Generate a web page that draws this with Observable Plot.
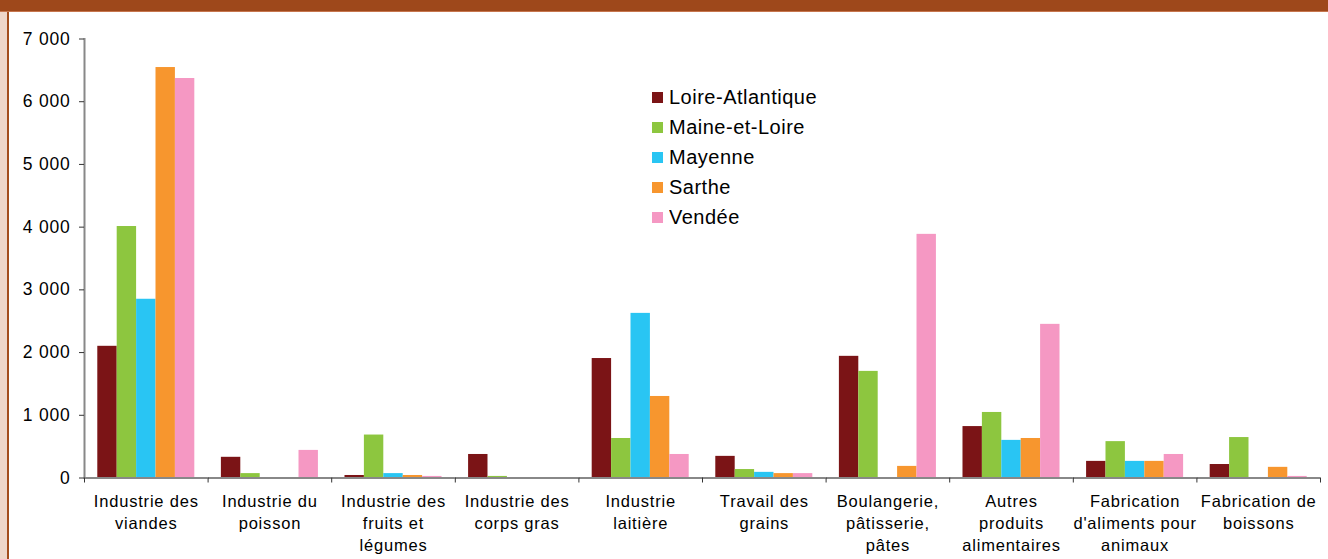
<!DOCTYPE html>
<html>
<head>
<meta charset="utf-8">
<script src="https://cdn.jsdelivr.net/npm/d3@7"></script>
<script src="https://cdn.jsdelivr.net/npm/@observablehq/plot@0.6"></script>
<style>
  html, body { margin: 0; padding: 0; background: #fff; }
  #wrap { position: relative; width: 1328px; height: 559px; overflow: hidden; background: #fff; }
  #topbar { position: absolute; left: 0; top: 0; width: 1328px; height: 11px; background: #9E481B; border-bottom: 1px solid #C7764E; }
  #leftstrip { position: absolute; left: 0; top: 0; width: 7px; height: 559px; background: #EFD6C9; }
  #leftline { position: absolute; left: 7px; top: 0; width: 2px; height: 559px; background: #A34C1C; }
  #chart { position: absolute; left: 0; top: 0; }
  #legend { position: absolute; left: 652px; top: 82px; color: #000; }
  #legend * { font-family: "Liberation Sans", Arial, sans-serif !important; font-size: 20px !important; letter-spacing: 0.5px; color: #000; }
  #legend [class$="-swatch"] { height: 30px; padding: 0 !important; margin: 0 !important; display: flex; align-items: center; }
  #legend svg { margin-right: 6px !important; }
  #legend > div { margin: 0 !important; min-height: 0 !important; }
</style>
</head>
<body>
<div id="wrap">
  <div id="leftstrip"></div>
  <div id="leftline"></div>
  <div id="topbar"></div>
  <div id="chart"></div>
  <div id="legend"></div>
</div>
<script>
// Categories (full names) and their wrapped tick labels
const categories = [
  "Industrie des viandes",
  "Industrie du poisson",
  "Industrie des fruits et légumes",
  "Industrie des corps gras",
  "Industrie laitière",
  "Travail des grains",
  "Boulangerie, pâtisserie, pâtes",
  "Autres produits alimentaires",
  "Fabrication d'aliments pour animaux",
  "Fabrication de boissons"
];
const categoryTickLabels = [
  "Industrie des\nviandes",
  "Industrie du\npoisson",
  "Industrie des\nfruits et\nlégumes",
  "Industrie des\ncorps gras",
  "Industrie\nlaitière",
  "Travail des\ngrains",
  "Boulangerie,\npâtisserie,\npâtes",
  "Autres\nproduits\nalimentaires",
  "Fabrication\nd'aliments pour\nanimaux",
  "Fabrication de\nboissons"
];
const regions = ["Loire-Atlantique", "Maine-et-Loire", "Mayenne", "Sarthe", "Vendée"];
const regionColors = ["#7B1416", "#8DC63F", "#29C5F3", "#F7962E", "#F598C3"];

// Series values (one per region, in category order)
const loireAtlantique = [2100, 330, 40, 375, 1905, 345, 1940, 820, 265, 215];
const maineEtLoire    = [4010, 70, 685, 25, 630, 135, 1700, 1045, 580, 645];
const mayenne         = [2850, 0, 70, 0, 2625, 90, 0, 600, 265, 0];
const sarthe          = [6545, 0, 40, 0, 1300, 70, 185, 630, 265, 170];
const vendee          = [6370, 440, 25, 0, 375, 70, 3885, 2450, 375, 25];

const yTicks = [0, 1000, 2000, 3000, 4000, 5000, 6000, 7000];

const series = [loireAtlantique, maineEtLoire, mayenne, sarthe, vendee];
const rows = [];
categories.forEach((c, i) => {
  regions.forEach((r, j) => rows.push({category: c, region: r, value: series[j][i]}));
});

const W = 1328, H = 559;
const mL = 84, mR = 8, mT = 38.5, mB = 81.5;
const step = (W - mL - mR) / categories.length;
const fmt = d => d3.format(",")(d).replace(/,/g, " ");

const chart = Plot.plot({
  width: W,
  height: H,
  marginLeft: mL,
  marginRight: mR,
  marginTop: mT,
  marginBottom: mB,
  style: {background: "transparent", fontFamily: "'Liberation Sans', Arial, sans-serif", color: "#000",
    overflow: "visible", letterSpacing: "0.8px", fontSize: "17px"},
  fx: {domain: categories, padding: 0, round: false, label: null},
  x: {domain: regions, paddingInner: 0, paddingOuter: 0.685, round: false, axis: null},
  y: {domain: [0, 7000], label: null},
  color: {domain: regions, range: regionColors},
  marks: [
    Plot.barY(rows, {fx: "category", x: "region", y: "value", fill: "region"}),
    Plot.ruleY([0], {stroke: "#888", strokeWidth: 2}),
    Plot.frame({anchor: "left", facetAnchor: "left", stroke: "#888", strokeWidth: 2}),
    Plot.axisY({ticks: yTicks, tickFormat: fmt, tickSize: 5, tickPadding: 9, stroke: "#333", fill: "#000",
      fontSize: 17.5, label: null}),
    Plot.axisFx({anchor: "bottom", tickSize: 5, tickFormat: () => "", dx: -step / 2, stroke: "#333", label: null}),
    Plot.axisFx({anchor: "bottom", ticks: [categories[categories.length - 1]], tickSize: 5, tickFormat: () => "", dx: step / 2, stroke: "#333", label: null}),
    Plot.axisFx({anchor: "bottom", tickSize: 0, tickPadding: 13, fontSize: 16.5, lineHeight: 22 / 16.5, fill: "#000",
      tickFormat: d => categoryTickLabels[categories.indexOf(d)], label: null})
  ]
});
document.getElementById("chart").appendChild(chart);

const legend = Plot.legend({
  color: {domain: regions, range: regionColors},
  columns: 1,
  swatchSize: 11,
  className: "lg"
});
document.getElementById("legend").appendChild(legend);
</script>
</body>
</html>
